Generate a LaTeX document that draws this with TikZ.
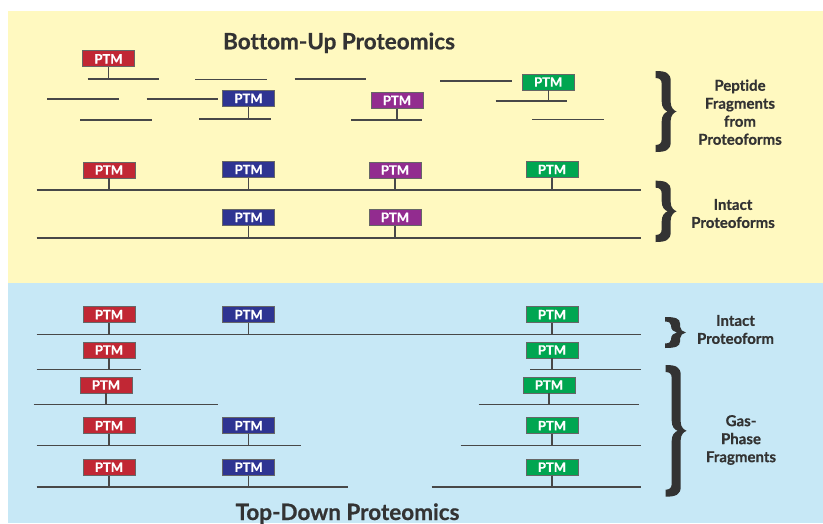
\documentclass[tikz,border=0pt]{standalone}
\usepackage{fontspec}
\setmainfont{Lato}[Ligatures=NoCommon, BoldFeatures={FakeBold=0.6}]
\definecolor{bgyellow}{RGB}{255,249,192}
\definecolor{bgblue}{RGB}{199,232,246}
\definecolor{ptmred}{RGB}{193,39,52}
\definecolor{ptmblue}{RGB}{46,52,146}
\definecolor{ptmpurple}{RGB}{146,44,143}
\definecolor{ptmgreen}{RGB}{0,166,81}
\definecolor{inkgray}{RGB}{72,72,72}
\definecolor{textgray}{RGB}{51,51,51}
\newcommand{\strand}[4]{\coordinate (#1s) at (#2,#4); \coordinate (#1e) at (#3,#4); \draw[strandline] (#1s) -- (#1e);}
\newcommand{\ptmbox}[4]{\node[ptm, fill=#2] (#1) at (#3,#4) {PTM};}
\newcommand{\tether}[2]{\draw[strandline] (#1.south) -- (#1.south |- #2);}
% \mybrace{x}{ytop}{ybottom}{vertical factor}
\newcommand{\mybrace}[4]{%
  \pgfmathsetmacro{\bx}{#1}\pgfmathsetmacro{\bt}{#2}\pgfmathsetmacro{\bb}{#3}%
  \pgfmathsetmacro{\bm}{(#2+#3)/2}\pgfmathsetmacro{\bk}{#4}%
  \fill[textgray] (\bx,\bt)
    .. controls ({\bx+10},\bt) and ({\bx+15},{\bt+2*\bk}) .. ({\bx+15},{\bt+10*\bk})
    -- ({\bx+15},{\bm-9*\bk})
    .. controls ({\bx+15},{\bm-4*\bk}) and ({\bx+18},{\bm-1*\bk}) .. ({\bx+21},\bm)
    .. controls ({\bx+18},{\bm+1*\bk}) and ({\bx+15},{\bm+4*\bk}) .. ({\bx+15},{\bm+9*\bk})
    -- ({\bx+15},{\bb-10*\bk})
    .. controls ({\bx+15},{\bb-2*\bk}) and ({\bx+10},\bb) .. (\bx,\bb)
    -- (\bx,{\bb-7*\bk})
    .. controls ({\bx+4},{\bb-7*\bk}) and ({\bx+6},{\bb-9*\bk}) .. ({\bx+6},{\bb-13*\bk})
    -- ({\bx+6},{\bm+10*\bk})
    .. controls ({\bx+6},{\bm+4*\bk}) and ({\bx+9},{\bm+1*\bk}) .. ({\bx+12},\bm)
    .. controls ({\bx+9},{\bm-1*\bk}) and ({\bx+6},{\bm-4*\bk}) .. ({\bx+6},{\bm-10*\bk})
    -- ({\bx+6},{\bt+13*\bk})
    .. controls ({\bx+6},{\bt+9*\bk}) and ({\bx+4},{\bt+7*\bk}) .. (\bx,{\bt+7*\bk})
    -- cycle;}
\begin{document}
\begin{tikzpicture}[x=1pt,y=-1pt,
  strandline/.style={draw=inkgray, line width=1.3pt},
  ptm/.style={draw=black!60, line width=0.9pt, minimum width=52pt, minimum height=16pt,
    inner sep=0pt, text=white, font=\fontsize{13}{13}\selectfont\bfseries},
  titletext/.style={text=textgray, font=\fontsize{22.5}{24}\selectfont\bfseries, inner sep=0pt},
  sidetext/.style={text=textgray, align=center, inner sep=0pt, font=\fontsize{15}{18}\selectfont\bfseries}]
\useasboundingbox (0,0) rectangle (823,523);
\fill[bgyellow] (8,11) rectangle (823,283);
\fill[bgblue] (8,283) rectangle (823,523);

% ---------- Bottom-up ----------
\node[titletext, anchor=base] (tbu) at (339,49.3) {Bottom-Up Proteomics};

\strand{f1}{87.7}{159.3}{79}
\strand{f2}{195.3}{267}{79.7}
\strand{f3}{294.7}{366}{79}
\strand{f4}{440}{511.7}{81}
\strand{f5}{495.7}{567.3}{101}
\strand{f6}{47}{118.7}{99}
\strand{f7}{146.7}{218.3}{99}
\strand{f8}{199.3}{271}{119}
\strand{f9}{80.3}{152.3}{120}
\strand{f10}{351}{422}{120}
\strand{f11}{532}{603.7}{119.7}

\ptmbox{fr}{ptmred}{108.5}{58.8}
\ptmbox{fg}{ptmgreen}{548.2}{82}
\ptmbox{fb}{ptmblue}{248.5}{98.3}
\ptmbox{fp}{ptmpurple}{397}{100.3}
\tether{fr}{f1s}
\tether{fg}{f5s}
\tether{fb}{f8s}
\tether{fp}{f10s}

\strand{i1}{36.7}{641.3}{190}
\ptmbox{ir}{ptmred}{109}{170}
\ptmbox{ib}{ptmblue}{248.7}{169.5}
\ptmbox{ip}{ptmpurple}{395}{170}
\ptmbox{ig}{ptmgreen}{552}{169.5}
\tether{ir}{i1s}\tether{ib}{i1s}\tether{ip}{i1s}\tether{ig}{i1s}

\strand{i2}{36.7}{641.3}{238}
\ptmbox{jb}{ptmblue}{248.7}{217.3}
\ptmbox{jp}{ptmpurple}{395}{217.3}
\tether{jb}{i2s}\tether{jp}{i2s}

\mybrace{655.7}{71}{152}{1}
\mybrace{655.7}{180.7}{242}{1}
\node[sidetext] (lab1) at (740,112.2) {Peptide\\Fragments\\from\\Proteoforms};
\node[sidetext] (lab2) at (733,213.5) {Intact\\Proteoforms};

% ---------- Top-down ----------
\strand{a1}{36.7}{641.3}{334.3}
\ptmbox{ar}{ptmred}{109}{314.7}
\ptmbox{ab}{ptmblue}{248.7}{314.7}
\ptmbox{ag}{ptmgreen}{552}{314.7}
\tether{ar}{a1s}\tether{ab}{a1s}\tether{ag}{a1s}

\strand{b1}{36.7}{141}{369.3}
\strand{b2}{530.3}{641.3}{369.3}
\ptmbox{br}{ptmred}{109}{350}
\ptmbox{bg}{ptmgreen}{552}{350}
\tether{br}{b1s}\tether{bg}{b2s}

\strand{c1}{33.7}{218}{404.3}
\strand{c2}{478.7}{638.7}{404.3}
\ptmbox{cr}{ptmred}{106}{385}
\ptmbox{cg}{ptmgreen}{549}{385}
\tether{cr}{c1s}\tether{cg}{c2s}

\strand{d1}{36.7}{300.7}{445.7}
\strand{d2}{460.7}{641.3}{445.7}
\ptmbox{dr}{ptmred}{109}{425.7}
\ptmbox{db}{ptmblue}{248.7}{425.7}
\ptmbox{dg}{ptmgreen}{552}{425.7}
\tether{dr}{d1s}\tether{db}{d1s}\tether{dg}{d2s}

\strand{e1}{36.7}{347.7}{487}
\strand{e2}{431.7}{641.3}{487}
\ptmbox{er}{ptmred}{109}{467.2}
\ptmbox{eb}{ptmblue}{248.7}{467.2}
\ptmbox{eg}{ptmgreen}{552}{467.2}
\tether{er}{e1s}\tether{eb}{e1s}\tether{eg}{e2s}

\mybrace{665}{317}{348}{0.65}
\mybrace{665.7}{365}{496.7}{1}
\node[sidetext] (lab3) at (735.5,329.5) {Intact\\Proteoform};
\node[sidetext] (lab4) at (741,440) {Gas-\\Phase\\Fragments};

\node[titletext, anchor=base] (ttd) at (347.5,520) {Top-Down Proteomics};
\end{tikzpicture}
\end{document}
